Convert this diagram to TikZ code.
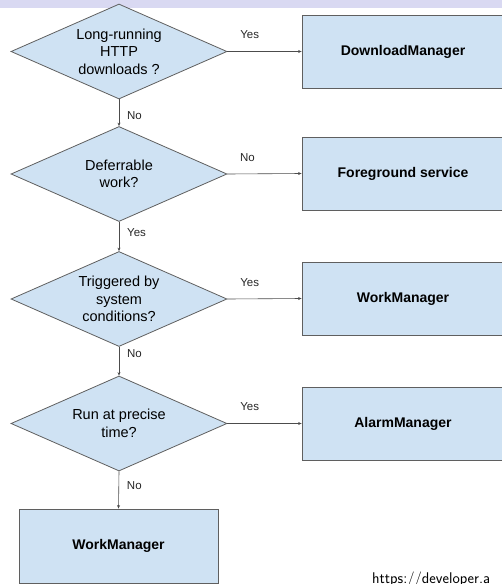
\documentclass[tikz,border=0pt]{standalone}
\usepackage{fontspec}
\setmainfont{Liberation Sans}
\usepackage{tikz}
\usetikzlibrary{shapes, arrows.meta}

\definecolor{boxblue}{RGB}{207,226,243}
\definecolor{bandlilac}{RGB}{217,217,242}
\definecolor{edgegray}{RGB}{95,95,95}

\begin{document}
\begin{tikzpicture}[x=1pt, y=-1pt, >={Stealth[length=3.5pt,width=3pt]}]

		\tikzset{
			decision/.style={diamond, draw=edgegray, fill=boxblue, line width=0.8pt, aspect=2.27, minimum width=216pt, minimum height=95pt, inner sep=0pt, align=center, font=\fontsize{14.5}{17.5}\selectfont},
			action/.style={rectangle, draw=edgegray, fill=boxblue, line width=0.8pt, minimum width=202pt, minimum height=73pt, font=\fontsize{14}{17}\selectfont\bfseries},
			answer/.style={font=\fontsize{11.5}{13}\selectfont, text=black!85},
			flow/.style={->, draw=black!70, line width=0.6pt},
		}

		\useasboundingbox (0,0) rectangle (502,584);
		\fill [bandlilac] (0,0) rectangle (502,8);

		\node [decision] (http) at (119,51.5) {Long-running\\HTTP\\downloads ?};
		\node [decision] (defer) at (119,174) {Deferrable\\work?};
		\node [decision] (trigger) at (119,299) {Triggered by\\system\\conditions?};
		\node [decision] (precise) at (119,423.5) {Run at precise\\time?};

		\node [action] (download) at (403,51.5) {DownloadManager};
		\node [action] (foreground) at (403,173.5) {Foreground service};
		\node [action] (workA) at (403,298.5) {WorkManager};
		\node [action] (alarm) at (403,423.5) {AlarmManager};
		\node [action, minimum width=199pt, minimum height=74pt] (workB) at (118.5,546) {WorkManager};

		\draw [flow] (http.east) -- node [answer, pos=0.3, above=9pt] {Yes} (download.west);
		\draw [flow] (defer.east) -- node [answer, pos=0.27, above=9pt] {No} (foreground.west);
		\draw [flow] (trigger.east) -- node [answer, pos=0.3, above=9pt] {Yes} (workA.west);
		\draw [flow] (precise.east) -- node [answer, pos=0.3, above=9pt] {Yes} (alarm.west);

		\draw [flow] (http.south) -- node [answer, pos=0.6, right=4.5pt] {No} (defer.north);
		\draw [flow] (defer.south) -- node [answer, pos=0.35, right=4.5pt] {Yes} (trigger.north);
		\draw [flow] (trigger.south) -- node [answer, pos=0.25, right=4.5pt] {No} (precise.north);
		\draw [flow] (precise.south) -- node [answer, pos=0.37, right=4.5pt] {No} (workB.north);

		\node [anchor=base west, inner sep=0pt, font=\sffamily\fontsize{15.5}{18}\selectfont] (link) at (372,583) {https://developer.a};
\end{tikzpicture}
\end{document}
